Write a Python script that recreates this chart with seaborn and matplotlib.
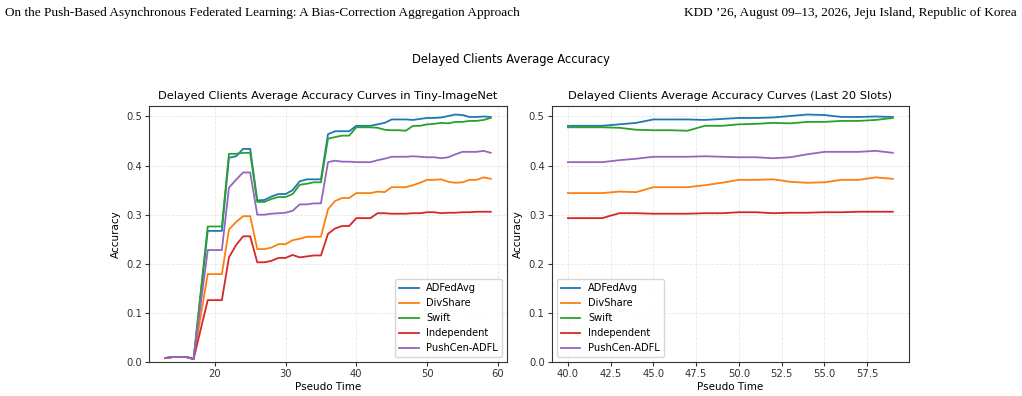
import numpy as np
import pandas as pd
import seaborn as sns
import matplotlib.pyplot as plt

# ---------- data ----------
times = [13, 14, 15, 16, 17] + list(range(19, 60))

methods = ['ADFedAvg', 'DivShare', 'Swift', 'Independent', 'PushCen-ADFL']

adfedavg = [0.008, 0.010, 0.010, 0.010, 0.006,
            0.267, 0.267, 0.267, 0.416, 0.419, 0.434, 0.434, 0.329, 0.330, 0.337,
            0.342, 0.342, 0.350, 0.368, 0.372, 0.372, 0.372, 0.464, 0.470, 0.470, 0.470,
            0.481, 0.481, 0.481, 0.484, 0.487, 0.494, 0.494, 0.494, 0.493, 0.495,
            0.497, 0.497, 0.498, 0.501, 0.504, 0.503, 0.499, 0.499, 0.500, 0.499]
divshare = [0.008, 0.010, 0.010, 0.010, 0.006,
            0.179, 0.179, 0.179, 0.270, 0.285, 0.297, 0.297, 0.230, 0.230, 0.233,
            0.240, 0.240, 0.248, 0.251, 0.255, 0.255, 0.255, 0.311, 0.328, 0.334, 0.334,
            0.344, 0.344, 0.344, 0.347, 0.346, 0.356, 0.356, 0.356, 0.360, 0.365,
            0.371, 0.371, 0.372, 0.367, 0.365, 0.366, 0.371, 0.371, 0.376, 0.373]
swift = [0.008, 0.010, 0.010, 0.010, 0.006,
         0.276, 0.276, 0.276, 0.424, 0.424, 0.426, 0.426, 0.326, 0.326, 0.332,
         0.336, 0.336, 0.342, 0.361, 0.363, 0.366, 0.366, 0.455, 0.458, 0.461, 0.461,
         0.478, 0.478, 0.478, 0.477, 0.473, 0.472, 0.472, 0.471, 0.481, 0.481,
         0.484, 0.485, 0.487, 0.486, 0.489, 0.489, 0.491, 0.491, 0.493, 0.497]
independent = [0.008, 0.010, 0.010, 0.010, 0.006,
               0.126, 0.126, 0.126, 0.213, 0.238, 0.256, 0.256, 0.203, 0.203, 0.206,
               0.212, 0.212, 0.218, 0.213, 0.215, 0.217, 0.217, 0.261, 0.272, 0.277, 0.277,
               0.293, 0.293, 0.293, 0.303, 0.303, 0.302, 0.302, 0.302, 0.303, 0.303,
               0.305, 0.305, 0.303, 0.304, 0.304, 0.305, 0.305, 0.306, 0.306, 0.306]
pushcen = [0.008, 0.010, 0.010, 0.010, 0.006,
           0.228, 0.228, 0.228, 0.355, 0.371, 0.386, 0.386, 0.300, 0.300, 0.302,
           0.303, 0.304, 0.308, 0.321, 0.321, 0.323, 0.323, 0.407, 0.410, 0.408, 0.408,
           0.407, 0.407, 0.407, 0.411, 0.414, 0.418, 0.418, 0.418, 0.419, 0.418,
           0.417, 0.417, 0.415, 0.417, 0.423, 0.428, 0.428, 0.428, 0.430, 0.426]

LAST_START = 40

# long table for seaborn
rows = []
for name, vals in zip(methods, [adfedavg, divshare, swift, independent, pushcen]):
    for t, v in zip(times, vals):
        rows.append((name, t, v))
df = pd.DataFrame(rows, columns=['method', 'time', 'acc'])
df_last = df[df['time'] >= LAST_START]

palette = dict(zip(methods, sns.color_palette('tab10', 5)))

# ---------- plot ----------
plt.rcParams['font.family'] = ['DejaVu Sans']
plt.rcParams['axes.edgecolor'] = '#333333'
plt.rcParams['xtick.color'] = '#333333'
plt.rcParams['ytick.color'] = '#333333'

fig = plt.figure(figsize=(10.22, 3.96), dpi=100)
ax1 = fig.add_axes([0.1458, 0.0859, 0.3503, 0.6472])
ax2 = fig.add_axes([0.5398, 0.0859, 0.3497, 0.6472])

sns.lineplot(data=df, x='time', y='acc', hue='method', palette=palette,
             hue_order=methods, linewidth=1.3, ax=ax1)
sns.lineplot(data=df_last, x='time', y='acc', hue='method', palette=palette,
             hue_order=methods, linewidth=1.3, ax=ax2)

titles = ['Delayed Clients Average Accuracy Curves in Tiny-ImageNet',
          'Delayed Clients Average Accuracy Curves (Last 20 Slots)']
for ax, title, loc in zip([ax1, ax2], titles, ['lower right', 'lower left']):
    ax.set_title(title, fontsize=8.2, pad=5)
    ax.set_xlabel('Pseudo Time', fontsize=7.5, labelpad=2)
    ax.set_ylabel('Accuracy', fontsize=7.5, labelpad=4)
    ax.set_ylim(0, 0.522)
    ax.tick_params(labelsize=7.2, length=3, pad=2)
    ax.grid(True, linestyle='--', alpha=0.3, linewidth=0.6)
    ax.legend(loc=loc, fontsize=7.1, frameon=True)

ax1.set_xticks([20, 30, 40, 50, 60])
ax2.set_xticks(np.arange(40, 58, 2.5))

fig.suptitle('Delayed Clients Average Accuracy', fontsize=8.3, y=0.865)

# page header
fig.text(0.005, 0.968, 'On the Push-Based Asynchronous Federated Learning: A Bias-Correction Aggregation Approach',
         fontsize=9.5, family='Liberation Serif', va='center', ha='left')
fig.text(0.995, 0.968, 'KDD \u201926, August 09\u201313, 2026, Jeju Island, Republic of Korea',
         fontsize=9.5, family='Liberation Serif', va='center', ha='right')

fig.savefig('out.png', dpi=100)
